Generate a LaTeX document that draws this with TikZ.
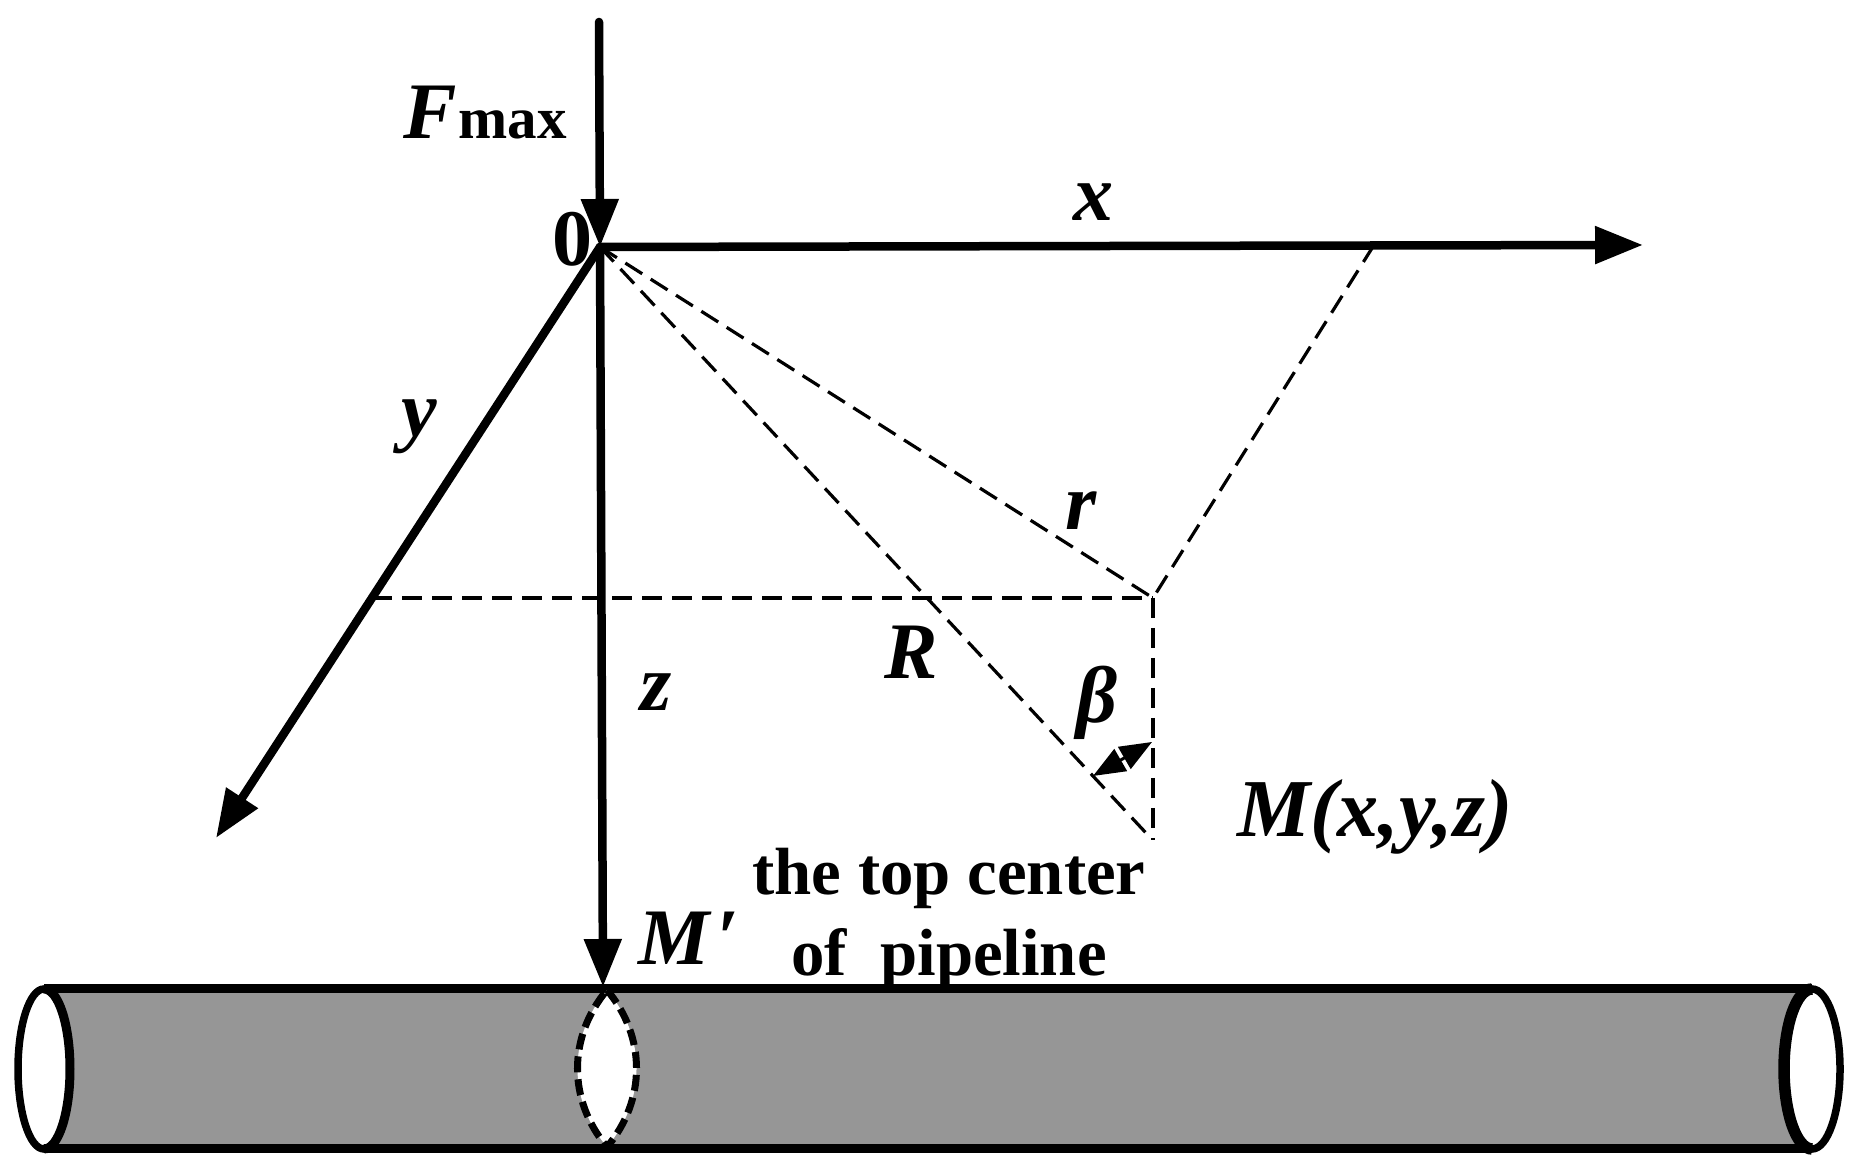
\documentclass[tikz,border=0pt]{standalone}
\usepackage{fontspec}
\setmainfont{Liberation Serif}
\usetikzlibrary{arrows.meta,shapes.geometric}
\tikzset{axis/.style={
    line width=0.085cm, line cap=round,
    -{Triangle[length=0.48cm,width=0.36cm]}
  },
  guide/.style={
    line width=0.032cm, dash pattern=on 0.2cm off 0.1cm
  },
  pipe end/.style={
    ellipse, draw, fill=white, line width=0.075cm,
    minimum width=#1, minimum height=1.6cm,
    inner sep=0pt, outer sep=0pt
  },
  pipe end/.default={0.5cm},
  pipe wall/.style={line width=0.09cm},
  pipe cut/.style={
    line width=0.07cm, fill=white, dash pattern=on 0.16cm off 0.07cm
  },
  symbol/.style={
    font=\fontsize{22.8}{24}\selectfont\bfseries\itshape,
    anchor=base west, inner sep=0pt, outer sep=0pt
  },
  caption/.style={
    font=\fontsize{19}{20}\selectfont\bfseries,
    anchor=base, inner sep=0pt, outer sep=0pt
  }
}
\begin{document}
\begin{tikzpicture}
      \useasboundingbox (0,0) rectangle (18.54,11.7);
      \coordinate (force) at (5.99,11.48);
      \coordinate (origin) at (6,9.23);
      \coordinate (xtip) at (16.43,9.25);
      \coordinate (ytip) at (2.16,3.32);
      \coordinate (ztip) at (6.03,1.83);
      \coordinate (xfoot) at (13.74,9.25);
      \coordinate (yfoot) at (3.72,5.72);
      \coordinate (corner) at (11.53,5.72);
      \coordinate (Mpoint) at (11.46,3.37);
      \coordinate (Mdrop) at (11.53,3.3);
      \coordinate (betaA) at (10.93,3.94);
      \coordinate (betaB) at (11.52,4.28);
      \coordinate (cuttop) at (6.07,1.8);
      \coordinate (cutbottom) at (6.07,0.23);
      \fill[black!41] (0.44,0.23) rectangle (18.12,1.8);
      \node[pipe end=0.52cm] (leftend) at (0.44,1.01) {};
      \node[pipe end=0.56cm] (rightend) at (18.12,1.01) {};
      \draw[pipe wall] (leftend.north) -- (rightend.north);
      \draw[pipe wall] (leftend.south) -- (rightend.south);
      \draw[line width=0.115cm] (rightend.north) arc[start angle=90,end angle=270,x radius=0.28,y radius=0.8];
      \draw[line width=0.09cm] (leftend.north) arc[start angle=90,end angle=-90,x radius=0.26,y radius=0.8];
      \draw[pipe cut] (cuttop) to[bend left=40] (cutbottom) to[bend left=40] cycle;
      \draw[guide] (origin) -- (corner);
      \draw[guide] (origin) -- (Mpoint);
      \draw[guide] (yfoot) -- (corner);
      \draw[guide] (xfoot) -- (corner);
      \draw[guide] (corner) -- (Mdrop);
      \draw[line width=0.03cm,{Triangle[length=0.32cm,width=0.25cm]}-{Triangle[length=0.32cm,width=0.25cm]}] (betaA) -- (betaB);
      \draw[axis] (force) -- (origin);
      \draw[axis] (origin) -- (xtip);
      \draw[axis] (origin) -- (ytip);
      \draw[axis] (origin) -- (ztip);
      \node[symbol] (Flabel) at (4.03,10.31) {F\kern0.02cm\fontsize{16.8}{18}\selectfont\upshape max};
      \node[symbol,font=\fontsize{22.8}{24}\selectfont\bfseries] (zero) at (5.52,9.04) {0};
      \node[symbol] (xlabel) at (10.73,9.49) {x};
      \node[symbol] (ylabel) at (4.01,7.33) {y};
      \node[symbol] (rlabel) at (10.65,6.4) {r};
      \node[symbol] (zlabel) at (6.4,4.59) {z};
      \node[symbol] (Rlabel) at (8.84,4.91) {R};
      \node[symbol] (betalabel) at (10.76,4.47) {β};
      \node[symbol,font=\fontsize{23.4}{24}\selectfont\bfseries\itshape] (Mlabel) at (12.37,3.33) {M(x,y,z)};
      \node[symbol] (Mprime) at (6.38,2.05) {M\kern0.07cm′};
      \node[caption] (topline) at (9.49,2.75) {the top center};
      \node[caption] (pipeline) at (9.49,1.94) {of\ \ pipeline};
    \end{tikzpicture}
\end{document}
